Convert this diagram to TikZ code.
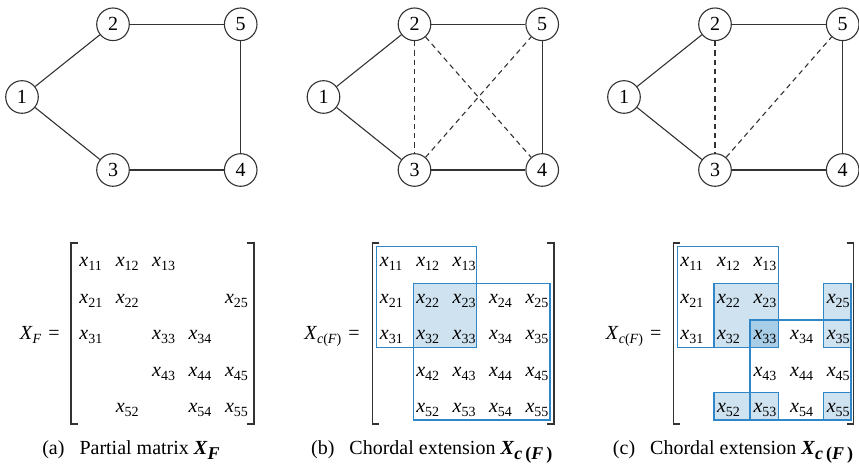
\documentclass[tikz,border=0pt]{standalone}
\usepackage{fontspec}
\setmainfont{Liberation Serif}
\definecolor{cblue}{HTML}{2F86C8}
\definecolor{cfill}{HTML}{CFE2F0}
\definecolor{cdark}{HTML}{A8CDE6}
\definecolor{cline}{HTML}{333333}
\newcommand\mx[1]{\textit{x}\raisebox{-2pt}{\scriptsize #1}}
\newcommand\capX[1]{\textbf{\textit{X}}\raisebox{-2.4pt}{\small\bfseries #1}}
\tikzset{
  vtx/.style={circle,draw=cline,line width=0.55pt,minimum size=16.3pt,inner sep=0pt,font=\normalsize},
  edge/.style={draw=cline,line width=0.55pt},
  chord/.style={draw=cline,line width=0.55pt,dash pattern=on 2.6pt off 2pt},
  entry/.style={anchor=base west,inner sep=0pt},
  bracket/.style={draw=cline,line width=0.6pt},
  cbox/.style={draw=cblue,line width=0.65pt},
  sbox/.style={draw=cblue,fill=cfill,line width=0.65pt},
  dbox/.style={draw=cblue,fill=cdark,line width=0.65pt},
  caption/.style={anchor=base,inner sep=0pt},
  lbl/.style={anchor=base east,inner sep=0pt}
}
\begin{document}
\begin{tikzpicture}[x=0.5pt,y=-0.5pt]
\useasboundingbox (0,0) rectangle (859,464);
% ---------- graphs ----------
\foreach \p/\ox in {a/0,b/301.5,c/602} {
  \node[vtx] (\p1) at ({22+\ox},97) {1};
  \node[vtx] (\p2) at ({113+\ox},24.3) {2};
  \node[vtx] (\p5) at ({240.7+\ox},24.3) {5};
  \node[vtx] (\p3) at ({113+\ox},170) {3};
  \node[vtx] (\p4) at ({240.7+\ox},170) {4};
  \draw[edge] (\p1) -- (\p2);
  \draw[edge] (\p1) -- (\p3);
  \draw[edge] (\p2) -- (\p5);
  \draw[edge] (\p3) -- (\p4);
  \draw[edge] (\p5) -- (\p4);
}
\draw[chord] (b2) -- (b3);
\draw[chord] (b2) -- (b4);
\draw[chord] (b3) -- (b5);
\draw[chord] (c2) -- (c3);
\draw[chord] (c3) -- (c5);
% ---------- shading / boxes (b) ----------
\fill[cfill] (413.3,283.3) rectangle (476.7,347.3);
\draw[cbox] (376.7,246.7) rectangle (476.7,347.3);
\draw[cbox] (413.3,283.3) rectangle (550,420);
% ---------- shading / boxes (c) ----------
\draw[sbox] (714,283.3) rectangle (778.3,347.3);
\draw[sbox] (823.3,283.3) rectangle (851,347.3);
\draw[sbox] (714,392.7) rectangle (778.3,420);
\draw[sbox] (823.3,392.7) rectangle (851,420);
\draw[dbox] (750,320) rectangle (778.3,347.3);
\draw[cbox] (677.7,246.7) rectangle (778.3,347.3);
\draw[cbox] (750,320) rectangle (851,420);
% ---------- brackets ----------
\foreach \l/\r in {71/254,372.3/554,673.3/853.5} {
  \draw[bracket] ({\l+7},243) -- (\l,243) -- (\l,424) -- ({\l+7},424);
  \draw[bracket] ({\r-7},243) -- (\r,243) -- (\r,424) -- ({\r-7},424);
}
% ---------- entries ----------
\foreach \i/\j in {1/1,1/2,1/3,2/1,2/2,2/5,3/1,3/3,3/4,4/3,4/4,4/5,5/2,5/4,5/5}
  \node[entry] (a\i\j) at ({79+36.4*(\j-1)},{266.5+36.6*(\i-1)}) {\mx{\i\j}};
\foreach \i/\j in {1/1,1/2,1/3,2/1,2/2,2/3,2/4,2/5,3/1,3/2,3/3,3/4,3/5,4/2,4/3,4/4,4/5,5/2,5/3,5/4,5/5}
  \node[entry] (b\i\j) at ({379.5+36.4*(\j-1)},{266.5+36.6*(\i-1)}) {\mx{\i\j}};
\foreach \i/\j in {1/1,1/2,1/3,2/1,2/2,2/3,2/5,3/1,3/2,3/3,3/4,3/5,4/3,4/4,4/5,5/2,5/3,5/4,5/5}
  \node[entry] (c\i\j) at ({680+36.6*(\j-1)},{266.5+36.6*(\i-1)}) {\mx{\i\j}};
% ---------- labels ----------
\node[lbl] (la) at (60,340) {\textit{X}\raisebox{-2pt}{\scriptsize\textit{F}}\hspace{0.35em}=};
\node[lbl] (lb) at (360,340) {\textit{X}\raisebox{-2pt}{\scriptsize\textit{c}(\textit{F})}\hspace{0.35em}=};
\node[lbl] (lc) at (661.7,340) {\textit{X}\raisebox{-2pt}{\scriptsize\textit{c}(\textit{F})}\hspace{0.35em}=};
% ---------- captions ----------
\node[caption] (capa) at (131,455) {(a)\hspace{0.75em}Partial matrix \capX{\textit{F}}};
\node[caption] (capb) at (431.7,455) {(b)\hspace{0.75em}Chordal extension \capX{\textit{c}\,(\textit{F}\,)}};
\node[caption] (capc) at (733,455) {(c)\hspace{0.75em}Chordal extension \capX{\textit{c}\,(\textit{F}\,)}};
\end{tikzpicture}
\end{document}
